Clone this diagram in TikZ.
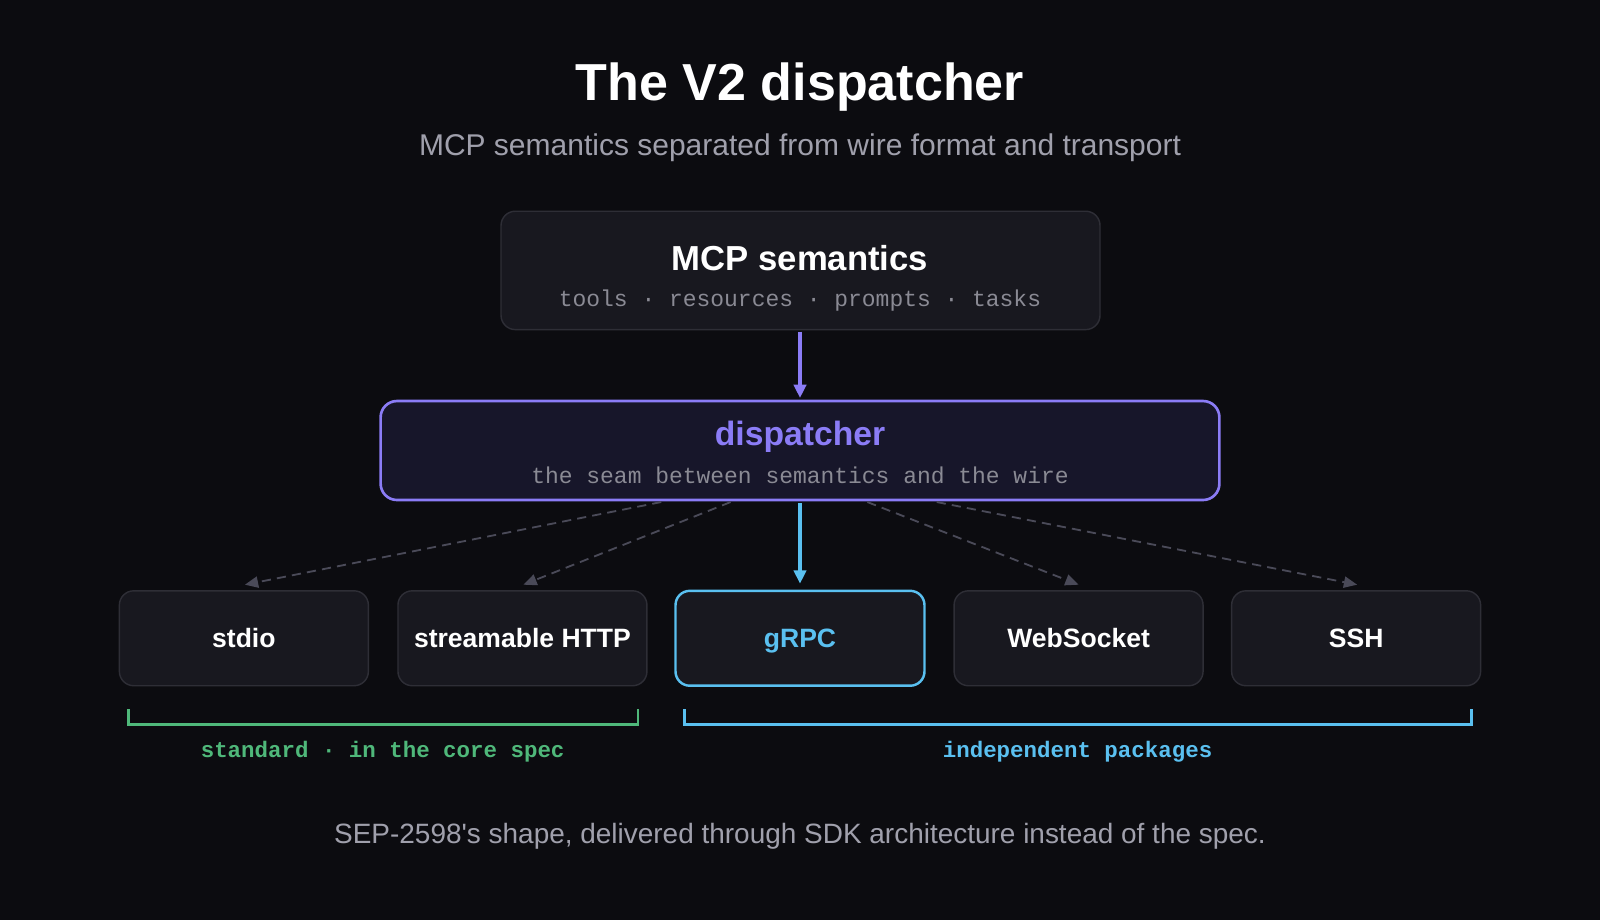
\documentclass[tikz,border=0pt]{standalone}
\usepackage{fontspec}
\setmainfont{Liberation Sans}
\newfontfamily\monof{Liberation Mono}
\newfontfamily\plainf{Liberation Sans}[Ligatures=ResetAll]
\usetikzlibrary{arrows.meta}
\definecolor{bg}{HTML}{0C0C10}
\definecolor{boxf}{HTML}{18181F}
\definecolor{boxd}{HTML}{2E2E36}
\definecolor{purp}{HTML}{8B7CF6}
\definecolor{dispf}{HTML}{17162A}
\definecolor{blu}{HTML}{5AC0F0}
\definecolor{grn}{HTML}{4FB87A}
\definecolor{gry}{HTML}{A0A0AC}
\definecolor{mgry}{HTML}{8A8A94}
\definecolor{dash}{HTML}{4A4A58}
\newcommand{\fs}[1]{\fontsize{#1}{#1}\selectfont}
\begin{document}
\begin{tikzpicture}[x=1pt,y=-1pt,
  box/.style={draw=boxd,fill=boxf,rounded corners=14pt,line width=1.4pt},
  lbl/.style={text=white,font=\fs{26}\bfseries,text height=19pt,text depth=5pt},
  mono/.style={text=mgry,font=\monof\fs{22.5}},
  dsh/.style={draw=dash,dash pattern=on 9pt off 6pt,line width=1.8pt,-{Triangle[length=13pt,width=11pt]}}]
\fill[bg] (0,0) rectangle (1568,902);
\useasboundingbox (0,0) rectangle (1568,902);
\node[text=white,font=\fs{51}\bfseries] (title) at (784,85) {The V2 dispatcher};
\node[text=gry,font=\fs{29.4}] (sub) at (784,145) {MCP semantics separated from wire format and transport};
% MCP box
\draw[box] (491,207) rectangle (1078,323);
\node[text=white,font=\fs{34}\bfseries] (mcp) at (784,253) {MCP semantics};
\node[mono] (mcpt) at (784,295) {tools · resources · prompts · tasks};
\coordinate (mcpb) at (784,325);
% dispatcher
\draw[draw=purp,fill=dispf,rounded corners=16pt,line width=2.6pt] (373,393) rectangle (1195,490);
\node[text=purp,font=\fs{33}\bfseries] (disp) at (784,428) {dispatcher};
\node[mono] (dispt) at (784,466) {the seam between semantics and the wire};
\coordinate (dtop) at (784,390);
\draw[purp,line width=3.5pt,-{Triangle[length=13pt,width=12pt]}] (mcpb) -- (dtop);
% bottom boxes
\draw[box] (117,579) rectangle (361,672);
\draw[box] (390,579) rectangle (634,672);
\draw[draw=blu,fill=boxf,rounded corners=14pt,line width=2.4pt] (662,579) rectangle (906,672);
\draw[box] (935,579) rectangle (1179,672);
\draw[box] (1207,579) rectangle (1451,672);
\node[lbl] (stdio) at (239,628) {stdio};
\node[lbl] (http) at (512,628) {streamable HTTP};
\node[lbl,text=blu] (grpc) at (784,628) {gRPC};
\node[lbl] (ws) at (1057,628) {WebSocket};
\node[lbl] (ssh) at (1329,628) {SSH};
% arrows
\coordinate (s1) at (648,492); \coordinate (e1) at (240,573);
\coordinate (s2) at (716,492); \coordinate (e2) at (513,573);
\coordinate (s4) at (850,492); \coordinate (e4) at (1057,573);
\coordinate (s5) at (918,492); \coordinate (e5) at (1330,573);
\draw[dsh] (s1) -- (e1);
\draw[dsh] (s2) -- (e2);
\draw[dsh] (s4) -- (e4);
\draw[dsh] (s5) -- (e5);
\coordinate (s3) at (784,493); \coordinate (e3) at (784,572);
\draw[blu,line width=3pt,-{Triangle[length=13pt,width=12pt]}] (s3) -- (e3);
% brackets
\draw[grn,line width=2.4pt] (126,695) -- (126,710) -- (625,710) -- (625,695);
\draw[blu,line width=2.4pt] (671,695) -- (671,710) -- (1442,710) -- (1442,695);
\node[text=grn,font=\monof\fs{22}\bfseries] (std) at (375,737) {standard · in the core spec};
\node[text=blu,font=\monof\fs{22}\bfseries] (ind) at (1056,737) {independent packages};
\node[text=gry,font=\plainf\fs{27.4}] (foot) at (784,820) {SEP-2598's shape, delivered through SDK architecture instead of the spec.};
\end{tikzpicture}
\end{document}
